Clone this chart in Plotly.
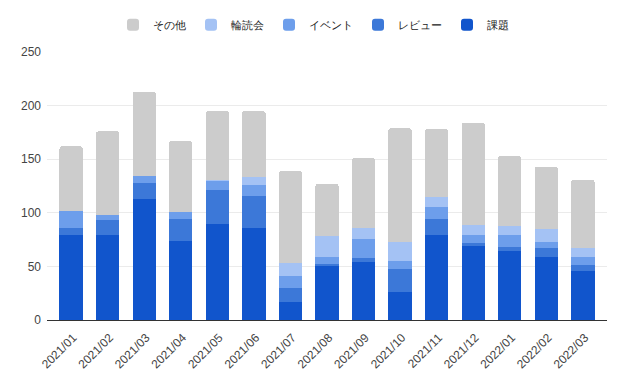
import plotly.graph_objects as go

months = ["2021/01", "2021/02", "2021/03", "2021/04", "2021/05", "2021/06", "2021/07", "2021/08",
          "2021/09", "2021/10", "2021/11", "2021/12", "2022/01", "2022/02", "2022/03"]
kadai = [79, 79, 113, 74, 90, 86, 17, 50, 54, 26, 79, 69, 64, 59, 46]
review = [7, 14, 15, 20, 31, 30, 13, 2, 4, 22, 15, 3, 4, 8, 5]
event = [16, 5, 6, 7, 9, 10, 11, 7, 18, 7, 11, 7, 11, 6, 8]
rindoku = [0, 0, 0, 0, 1, 7, 12, 19, 10, 18, 10, 10, 9, 12, 8]
sonota = [60, 78, 79, 66, 64, 62, 86, 49, 65, 106, 63, 95, 65, 58, 64]

series = [
    ("課題", kadai, "#1155cc"),
    ("レビュー", review, "#3c78d8"),
    ("イベント", event, "#6d9eeb"),
    ("輪読会", rindoku, "#a4c2f4"),
    ("その他", sonota, "#cccccc"),
]

fig = go.Figure()
for name, vals, color in series:
    fig.add_trace(go.Bar(x=months, y=vals, name=name, marker_color=color, marker_line_width=0))

font = "Arial, Liberation Sans, sans-serif"
fig.update_layout(
    width=627, height=382,
    barmode="stack", bargap=0.36, barcornerradius=3,
    paper_bgcolor="white", plot_bgcolor="white",
    margin=dict(l=47, r=20, t=52, b=62),
    font=dict(family=font, size=12, color="#444444"),
    legend=dict(orientation="h", traceorder="reversed", x=0.5, xanchor="center",
                xref="container", yref="container",
                y=0.935, yanchor="middle", font=dict(size=11, color="#222222"),
                itemwidth=30),
    xaxis=dict(tickangle=-45, showgrid=False, showline=True, linecolor="#333333",
               linewidth=1, ticks="", automargin=False,
               range=[-0.66, len(months) - 0.34],
               ticklabelstandoff=5, ticklabelshift=2,
               tickfont=dict(size=12, color="#444444")),
    yaxis=dict(range=[0, 250], dtick=50, showgrid=True, gridcolor="#ebebeb",
               zeroline=True, zerolinecolor="#333333", zerolinewidth=1,
               ticks="", automargin=False, ticklabelstandoff=5,
               tickfont=dict(size=12, color="#444444")),
)

fig.write_html("out.html", config={"displayModeBar": False},
               post_script="document.body.style.margin='0px';")
